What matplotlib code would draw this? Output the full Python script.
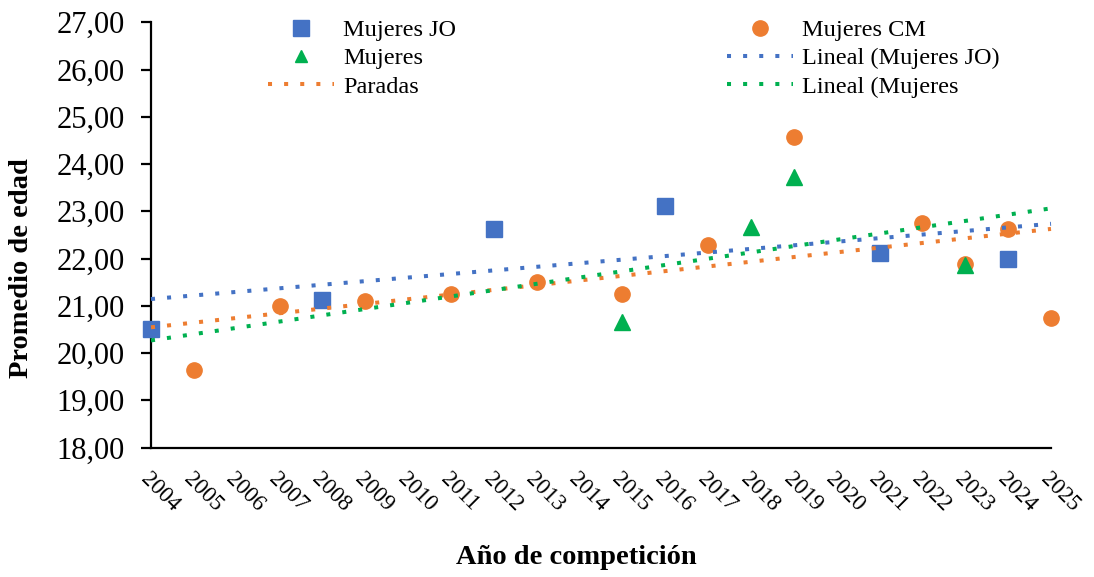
import matplotlib
matplotlib.use("Agg")
import matplotlib.pyplot as plt
from matplotlib.lines import Line2D
from matplotlib.ticker import FuncFormatter, FixedLocator
import numpy as np

# ---- data ----
years = list(range(2004, 2026))
jo_years = [2004, 2008, 2012, 2016, 2021, 2024]
jo_vals = [20.50, 21.12, 22.62, 23.12, 22.12, 22.00]
cm_years = [2005, 2007, 2009, 2011, 2013, 2015, 2017, 2019, 2022, 2023, 2024, 2025]
cm_vals = [19.63, 21.00, 21.11, 21.25, 21.50, 21.25, 22.29, 24.58, 22.75, 21.88, 22.62, 20.75]
muj_years = [2015, 2018, 2019, 2023]
muj_vals = [20.66, 22.67, 23.73, 21.86]
y_ticks = [18, 19, 20, 21, 22, 23, 24, 25, 26, 27]

BLUE = "#4472C4"
ORANGE = "#ED7D31"
GREEN = "#00B050"

plt.rcParams["font.family"] = ["Liberation Serif", "DejaVu Serif"]

W, H = 1094, 577
fig = plt.figure(figsize=(W / 100, H / 100), dpi=100)
ax = fig.add_axes([151 / W, 1 - 447.5 / H, (1051 - 151) / W, (447.5 - 22.3) / H])

ms = 11
ax.plot(jo_years, jo_vals, linestyle="none", marker="s", ms=ms, color=BLUE,
        clip_on=False, zorder=3)
ax.plot(cm_years, cm_vals, linestyle="none", marker="o", ms=ms, color=ORANGE,
        clip_on=False, zorder=3)
ax.plot(muj_years, muj_vals, linestyle="none", marker="^", ms=ms, color=GREEN,
        clip_on=False, zorder=3)

xr = np.array([years[0], years[-1]], dtype=float)
dot = (0, (1, 3))
lw = 2.9
for xs, ys, c in [(jo_years, jo_vals, BLUE), (cm_years, cm_vals, ORANGE),
                  (muj_years, muj_vals, GREEN)]:
    k, b = np.polyfit(xs, ys, 1)
    ax.plot(xr, k * xr + b, linestyle=dot, lw=lw, color=c,
            dash_capstyle="butt", clip_on=False, zorder=4)

ax.set_xlim(years[0], years[-1])
ax.set_ylim(y_ticks[0], y_ticks[-1])
ax.xaxis.set_major_locator(FixedLocator(years))
ax.set_xticklabels([str(y) for y in years])
ax.set_yticks(y_ticks)
ax.yaxis.set_major_formatter(FuncFormatter(lambda v, p: f"{v:.2f}".replace(".", ",")))

for s in ["top", "right"]:
    ax.spines[s].set_visible(False)
for s in ["left", "bottom"]:
    ax.spines[s].set_linewidth(1.6)
    ax.spines[s].set_color("black")

ax.tick_params(axis="y", direction="out", length=7, width=1.6, labelsize=22, pad=12)
ax.tick_params(axis="x", length=0, labelsize=16.5, pad=15)
for lab in ax.get_xticklabels():
    lab.set_rotation(-45)
    lab.set_ha("left")
    lab.set_va("top")
    lab.set_rotation_mode("anchor")

fig.text(22 / W, 1 - 268 / H, "Promedio de edad", rotation=90, ha="center",
         va="center", fontsize=20.5, fontweight="bold")
fig.text(576 / W, 1 - 557 / H, "Año de competición", ha="center", va="center",
         fontsize=20.5, fontweight="bold")

# legends
h_jo = Line2D([], [], linestyle="none", marker="s", ms=ms, color=BLUE)
h_cm = Line2D([], [], linestyle="none", marker="o", ms=ms, color=ORANGE)
h_mu = Line2D([], [], linestyle="none", marker="^", ms=9, color=GREEN)
h_ljo = Line2D([], [], linestyle=dot, lw=lw, color=BLUE, dash_capstyle="butt")
h_lcm = Line2D([], [], linestyle=dot, lw=lw, color=ORANGE, dash_capstyle="butt")
h_lmu = Line2D([], [], linestyle=dot, lw=lw, color=GREEN, dash_capstyle="butt")

common = dict(frameon=False, fontsize=17.5, handlelength=2.72, handletextpad=0.37,
              labelspacing=0.26, borderpad=0, borderaxespad=0, loc="upper left",
              bbox_transform=fig.transFigure, numpoints=1)
leg1 = fig.legend([h_jo, h_mu, h_lcm], ["Mujeres JO", "Mujeres", "Paradas"],
                  bbox_to_anchor=(268 / W, 1 - 19 / H), **common)
leg2 = fig.legend([h_cm, h_ljo, h_lmu], ["Mujeres CM", "Lineal (Mujeres JO)", "Lineal (Mujeres"],
                  bbox_to_anchor=(727 / W, 1 - 19 / H), **common)

fig.savefig("out.png", dpi=100)
